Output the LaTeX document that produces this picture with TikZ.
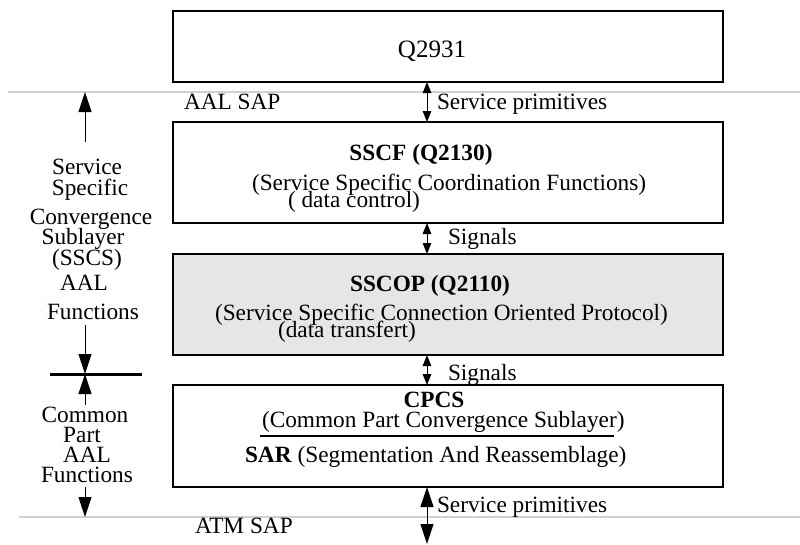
\documentclass[tikz,border=0pt]{standalone}
\usepackage{fontspec}
\setmainfont{Liberation Serif}
\usetikzlibrary{arrows.meta}
\definecolor{sapgray}{RGB}{208,208,208}
\definecolor{boxgray}{RGB}{230,230,230}
\begin{document}
\begin{tikzpicture}[x=1pt,y=-1pt,
  every node/.style={inner sep=0pt,outer sep=0pt,font=\fontsize{23.3}{25}\selectfont},
  layerbox/.style={draw=black,line width=1.6pt,anchor=north west,minimum width=550pt,rectangle},
  sapline/.style={draw=sapgray,line width=2pt},
  smallarr/.style={line width=1pt,{Triangle[length=11pt,width=8.5pt]}-{Triangle[length=11pt,width=8.5pt]}},
  bigarr/.style={line width=1pt,-{Triangle[length=20pt,width=13pt]}},
  bigdbl/.style={line width=1pt,{Triangle[length=20pt,width=13pt]}-{Triangle[length=20pt,width=13pt]}},
  lbl/.style={anchor=base},
  txt/.style={anchor=base west},
  bartxt/.style={line width=3pt}
]
\useasboundingbox (0,0) rectangle (800,544);

% SAP lines
\coordinate (topL) at (8,92);
\coordinate (topR) at (800,92);
\coordinate (botL) at (19,517);
\coordinate (botR) at (800,517);
\draw[sapline] (topL) -- (topR);
\draw[sapline] (botL) -- (botR);

% boxes
\node[layerbox,minimum height=71pt] (q) at (173,11) {};
\node[layerbox,minimum height=101pt] (sscf) at (173,122) {};
\node[layerbox,minimum height=101pt,fill=boxgray] (sscop) at (173,254) {};
\node[layerbox,minimum height=102pt] (cpcs) at (173,385) {};

% box texts
\node[lbl,font=\fontsize{25}{27}\selectfont] (tq) at (432,57) {Q2931};
\node[lbl] (t1) at (421,160) {\bfseries SSCF (Q2130)};
\node[txt] (t2) at (252,190) {(Service Specific Coordination Functions)};
\node[txt] (t3) at (288,207) {( data control)};
\node[lbl] (t4) at (430,291) {\bfseries SSCOP (Q2110)};
\node[txt] (t5) at (215,320) {(Service Specific Connection Oriented Protocol)};
\node[txt] (t6) at (278,337) {(data transfert)};
\node[lbl] (t7) at (434,407) {\bfseries CPCS};
\node[txt] (t8) at (262,427) {(Common Part Convergence Sublayer)};
\coordinate (ruleL) at (260,436);
\coordinate (ruleR) at (614,436);
\draw[line width=2pt] (ruleL) -- (ruleR);
\node[txt] (t9) at (245,462) {\textbf{SAR} (Segmentation And Reassemblage)};

% vertical connectors
\coordinate (ax) at (427,0);
\coordinate (bottip) at (427,544);
\draw[smallarr] (ax |- q.south) -- (ax |- sscf.north);
\draw[smallarr] (ax |- sscf.south) -- (ax |- sscop.north);
\draw[smallarr] (ax |- sscop.south) -- (ax |- cpcs.north);
\draw[bigdbl] (ax |- cpcs.south) -- (bottip);

\node[txt] (sp1) at (437,109) {Service primitives};
\node[txt] (sg1) at (448,244) {Signals};
\node[txt] (sg2) at (448,380) {Signals};
\node[txt] (sp2) at (437,512) {Service primitives};
\node[txt] (aalsap) at (184,109) {AAL SAP};
\node[txt] (atmsap) at (195,533) {ATM SAP};

% left labels
\node[lbl] (l1) at (87,174) {Service};
\node[lbl] (l2) at (90,195) {Specific};
\node[lbl] (l3) at (91,224) {Convergence};
\node[lbl] (l4) at (83,244) {Sublayer};
\node[lbl] (l5) at (87,265) {(SSCS)};
\node[lbl] (l6) at (84,290) {AAL};
\node[lbl] (l7) at (93,319) {Functions};
\node[lbl] (m1) at (85,422) {Common};
\node[lbl] (m2) at (82,442) {Part};
\node[lbl] (m3) at (87,462) {AAL};
\node[lbl] (m4) at (87,482) {Functions};

% left arrows
\coordinate (a1s) at (85,142);
\coordinate (a1e) at (85,92);
\coordinate (a2s) at (85,325);
\coordinate (barC) at (85,374);
\coordinate (barL) at (50,374);
\coordinate (barR) at (142,374);
\coordinate (a3s) at (85,405);
\coordinate (a4s) at (85,487);
\coordinate (a4e) at (85,517);
\draw[bigarr] (a1s) -- (a1e);
\draw[bigarr] (a2s) -- (barC);
\draw[bigarr] (a3s) -- (barC);
\draw[bigarr] (a4s) -- (a4e);
\draw[bartxt] (barL) -- (barR);
\end{tikzpicture}
\end{document}
